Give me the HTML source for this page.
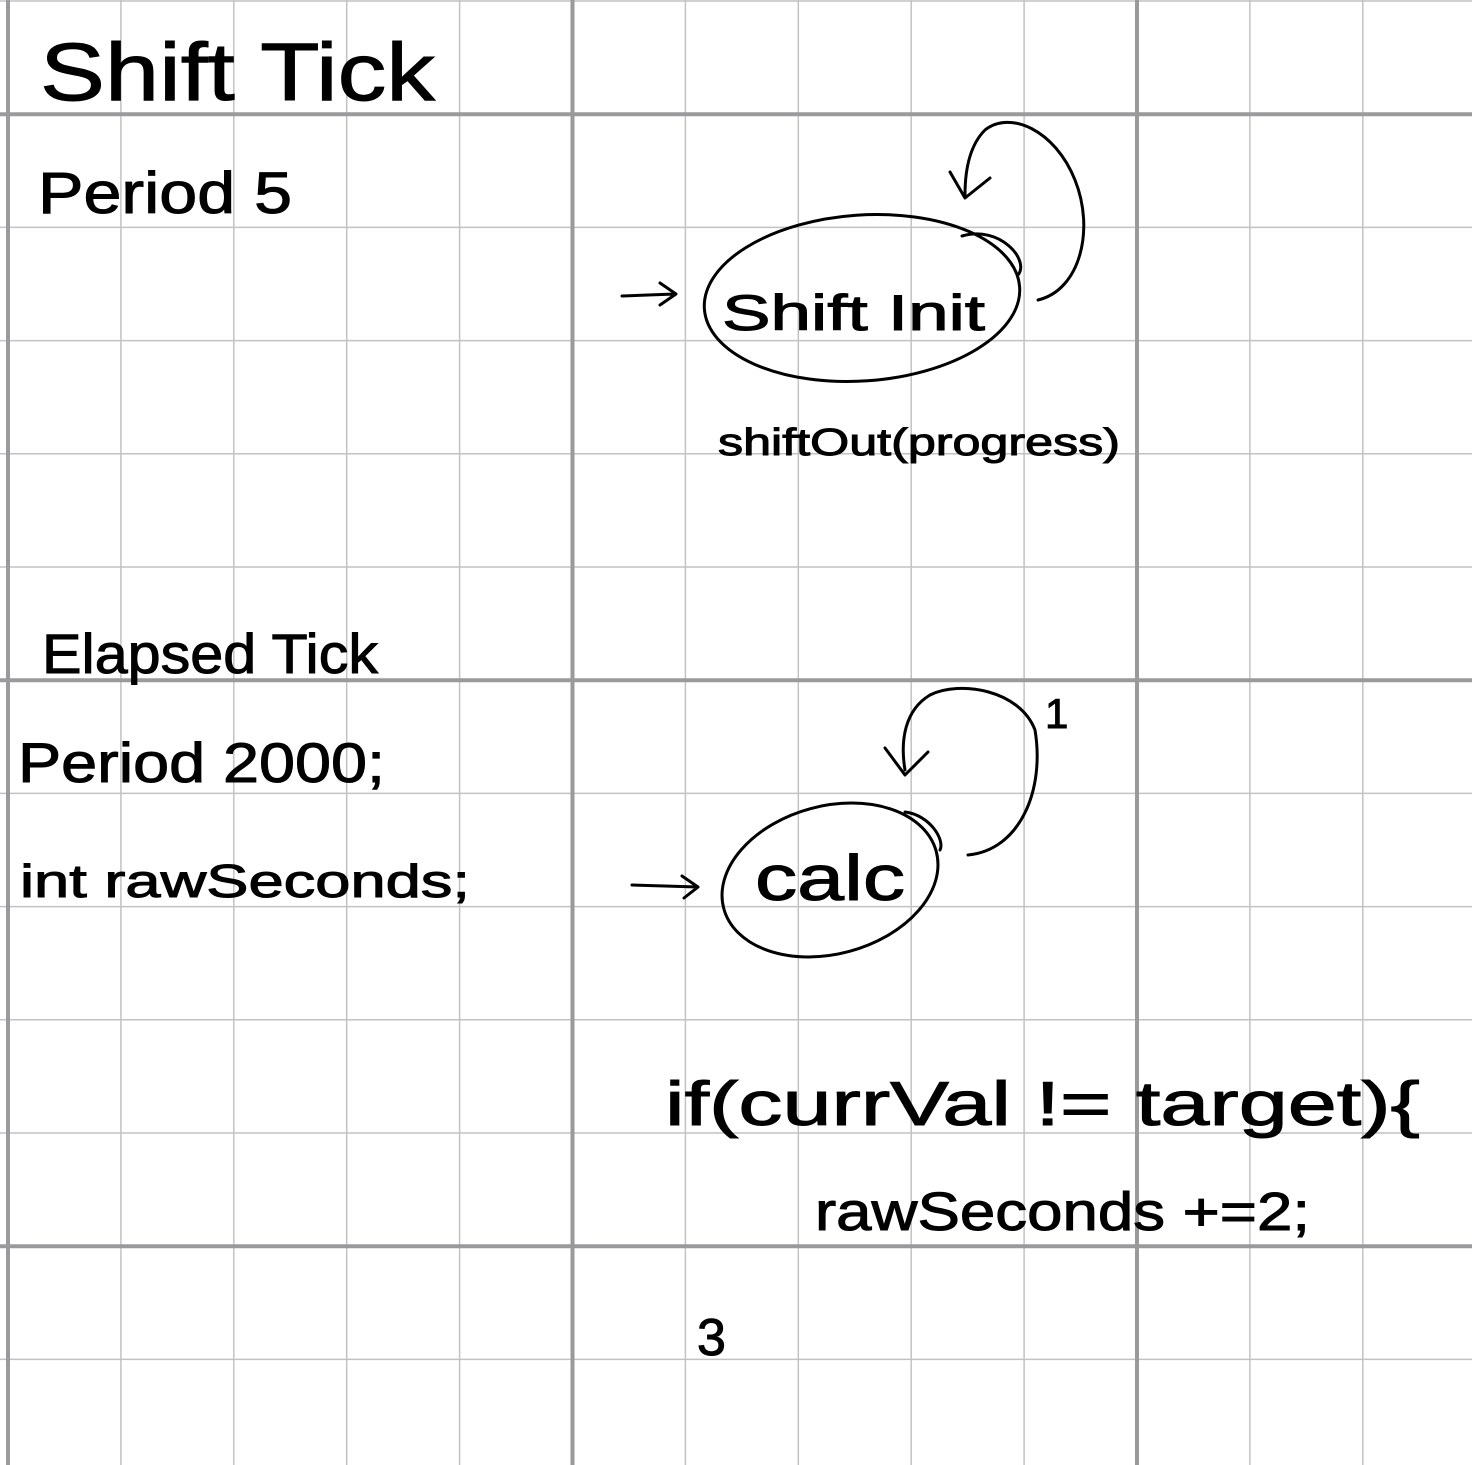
<!DOCTYPE html>
<html><head><meta charset="utf-8"><style>
html,body{margin:0;padding:0;background:#fff;}
svg{display:block}
text{font-family:"Liberation Sans",sans-serif;fill:#000;}
</style></head><body>
<svg width="1472" height="1465" viewBox="0 0 1472 1465">
<g id="thin" stroke="#c2c2c2" stroke-width="1.5"></g>
<g id="thick" stroke="#9a9a9c" stroke-width="4"></g>
<g fill="none" stroke="#000" stroke-width="3" stroke-linecap="round" stroke-linejoin="round">
  <ellipse cx="862" cy="298" rx="158" ry="83" transform="rotate(-4 862 298)"/>
  <path d="M962 236 C1000 225 1030 260 1018 275 M1038 300 C1080 290 1095 230 1075 180 C1055 130 1010 110 985 130 C970 145 965 170 965 195"/>
  <path d="M950 172 L965 198 L990 178"/>
  <path d="M622 296 L675 294 M660 283 L676 294 L660 305"/>
  <ellipse cx="830" cy="880" rx="110" ry="74" transform="rotate(-15 830 880)"/>
  <path d="M905 812 C930 815 945 840 940 850 M968 855 C1020 850 1045 790 1035 730 C1020 690 960 680 930 695 C905 710 900 740 905 770"/>
  <path d="M885 748 L905 775 L928 752"/>
  <path d="M632 885 L698 887 M682 876 L698 887 L684 898"/>
</g>
<g stroke="#000" stroke-width="1" lengthAdjust="spacingAndGlyphs">
<text x="40" y="100" font-size="82" textLength="395" lengthAdjust="spacingAndGlyphs">Shift Tick</text>
<text x="38" y="213" font-size="58" textLength="254" lengthAdjust="spacingAndGlyphs">Period  5</text>
<text x="722" y="330" font-size="50" textLength="263" lengthAdjust="spacingAndGlyphs">Shift Init</text>
<text x="718" y="455" font-size="38" textLength="402" lengthAdjust="spacingAndGlyphs">shiftOut(progress)</text>
<text x="42" y="673" font-size="56" textLength="336" lengthAdjust="spacingAndGlyphs">Elapsed Tick</text>
<text x="18" y="782" font-size="56" textLength="367" lengthAdjust="spacingAndGlyphs">Period 2000;</text>
<text x="20" y="897" font-size="46" textLength="450" lengthAdjust="spacingAndGlyphs">int rawSeconds;</text>
<text x="755" y="900" font-size="64" textLength="150" lengthAdjust="spacingAndGlyphs">calc</text>
<text x="1045" y="728" font-size="42">1</text>
<text x="665" y="1125" font-size="62" textLength="755" lengthAdjust="spacingAndGlyphs">if(currVal != target){</text>
<text x="815" y="1230" font-size="54" textLength="495" lengthAdjust="spacingAndGlyphs">rawSeconds +=2;</text>
<text x="697" y="1355" font-size="52">3</text>
</g>
</svg>
<script>
const ns="http://www.w3.org/2000/svg";
const thin=document.getElementById('thin'),thick=document.getElementById('thick');
const stepX=112.9, stepY=113.2;
for(let i=0;i<14;i++){
  const p=8+i*stepX;
  const major=(i%5===0);
  const g=major?thick:thin;
  const v=document.createElementNS(ns,'line');
  v.setAttribute('x1',p);v.setAttribute('x2',p);v.setAttribute('y1',0);v.setAttribute('y2',1465);
  
  
  g.appendChild(v);
  const y=1+i*stepY;
  const hm=(i%5===1);
  const h=document.createElementNS(ns,'line');
  h.setAttribute('x1',0);h.setAttribute('x2',1472);h.setAttribute('y1',y);h.setAttribute('y2',y);
  
  
  (hm?thick:thin).appendChild(h);
}
</script>
</body></html>
